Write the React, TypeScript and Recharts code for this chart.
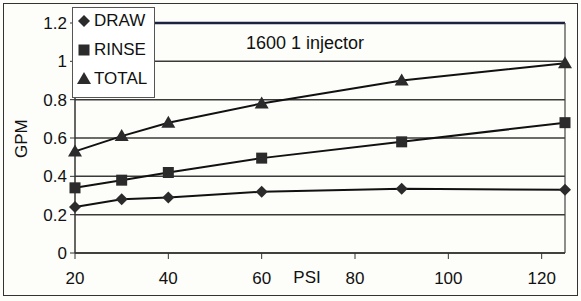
import { LineChart, Line, XAxis, YAxis, CartesianGrid, ReferenceLine } from 'recharts'

const psi = [20, 30, 40, 60, 90, 125]
const draw = [0.24, 0.28, 0.29, 0.32, 0.335, 0.33]
const rinse = [0.34, 0.38, 0.42, 0.495, 0.58, 0.68]
const total = [0.53, 0.61, 0.68, 0.78, 0.9, 0.99]
const xTicks = [20, 40, 60, 80, 100, 120]
const yTicks = [0, 0.2, 0.4, 0.6, 0.8, 1, 1.2]

const data = psi.map((p, i) => ({ psi: p, draw: draw[i], rinse: rinse[i], total: total[i] }))

const FONT = '"Liberation Sans", Arial, sans-serif'
const MARK = '#2b2b2b'
const TXT = { fill: '#111', fontSize: 17, fontFamily: FONT }

function Diamond({ cx, cy }: { cx?: number; cy?: number }) {
  if (cx == null || cy == null) return null
  const r = 6
  return <path d={`M${cx},${cy - r}L${cx + r},${cy}L${cx},${cy + r}L${cx - r},${cy}Z`} fill={MARK} />
}

function Square({ cx, cy }: { cx?: number; cy?: number }) {
  if (cx == null || cy == null) return null
  return <rect x={cx - 5.5} y={cy - 5.5} width={11} height={11} fill={MARK} />
}

function Triangle({ cx, cy }: { cx?: number; cy?: number }) {
  if (cx == null || cy == null) return null
  return <path d={`M${cx},${cy - 7}L${cx + 7},${cy + 5}L${cx - 7},${cy + 5}Z`} fill={MARK} />
}

const legendItems = [
  { name: 'DRAW', Shape: Diamond },
  { name: 'RINSE', Shape: Square },
  { name: 'TOTAL', Shape: Triangle },
]

export default function App() {
  return (
    <div style={{ position: 'absolute', left: 0, top: 0, width: 581, height: 301, background: '#fdfdf9', fontFamily: FONT }}>
      <div style={{ position: 'absolute', left: 3, top: 3, width: 573, height: 291, border: '1.5px solid #333' }} />
      <LineChart width={581} height={301} data={data} margin={{ top: 23, right: 16, left: 25, bottom: 8 }}>
        <CartesianGrid horizontal vertical={false} stroke="#3a3a3a" strokeWidth={1.5} />
        <XAxis
          dataKey="psi"
          type="number"
          domain={[20, 125]}
          ticks={xTicks}
          axisLine={{ stroke: '#333', strokeWidth: 1.5 }}
          tickLine={{ stroke: '#333' }}
          tickSize={6}
          tickMargin={13}
          tick={TXT}
          height={40}
          label={{ value: 'PSI', position: 'insideBottom', offset: 10, dx: -13, ...TXT }}
        />
        <YAxis
          type="number"
          domain={[0, 1.2]}
          ticks={yTicks}
          width={50}
          axisLine={{ stroke: '#333', strokeWidth: 1.5 }}
          tickLine={{ stroke: '#333' }}
          tickSize={5}
          tickMargin={3}
          tick={TXT}
          label={{ value: 'GPM', angle: -90, position: 'insideLeft', offset: -4, dy: 20, ...TXT }}
        />
        <ReferenceLine y={1.2} stroke="#1c2340" strokeWidth={2.5} />
        <ReferenceLine x={125} stroke="#444" strokeWidth={1.2} />
        <ReferenceLine
          y={1.1}
          stroke="none"
          label={{ value: '1600 1 injector', position: 'center', dx: -15, ...TXT, fontSize: 18 }}
        />
        <Line dataKey="draw" stroke="#111" strokeWidth={2} dot={<Diamond />} isAnimationActive={false} />
        <Line dataKey="rinse" stroke="#111" strokeWidth={2} dot={<Square />} isAnimationActive={false} />
        <Line dataKey="total" stroke="#111" strokeWidth={2} dot={<Triangle />} isAnimationActive={false} />
      </LineChart>
      <div
        style={{
          position: 'absolute',
          left: 72,
          top: 7,
          width: 83,
          height: 91,
          background: '#fff',
          border: '1px solid #555',
          boxSizing: 'border-box',
        }}
      >
        {legendItems.map(({ name, Shape }, i) => (
          <div key={name} style={{ position: 'absolute', left: 3, top: 3 + i * 29, display: 'flex', alignItems: 'center', fontSize: 17, color: '#111' }}>
            <svg width={16} height={16}>
              <Shape cx={8} cy={8} />
            </svg>
            <span style={{ marginLeft: 2 }}>{name}</span>
          </div>
        ))}
      </div>
    </div>
  )
}
